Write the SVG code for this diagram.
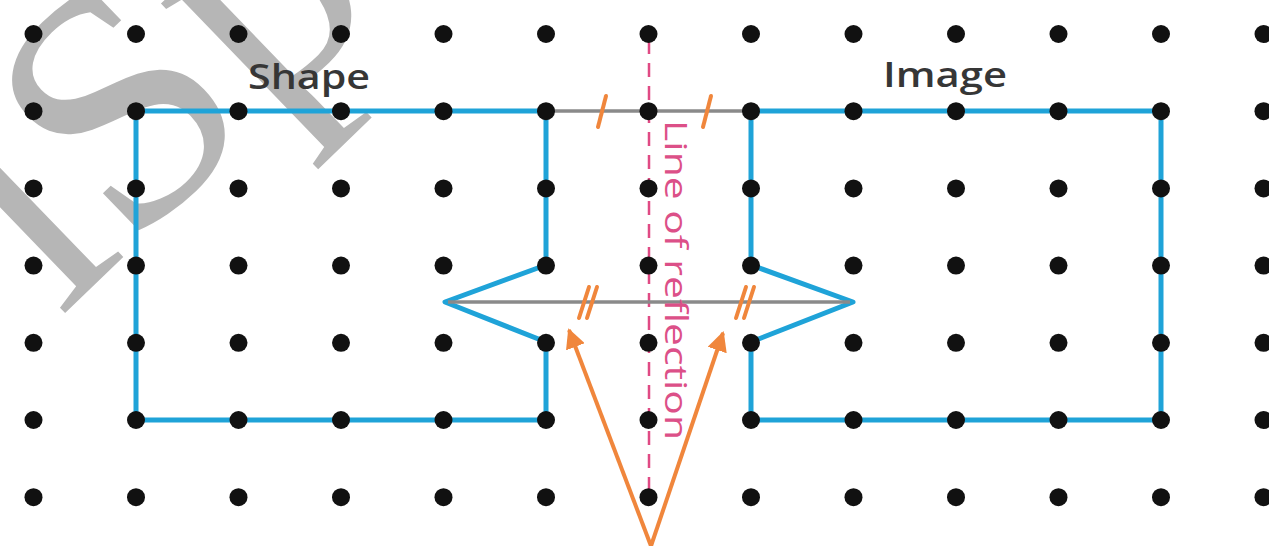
<svg xmlns="http://www.w3.org/2000/svg" width="1269" height="546" viewBox="0 0 1269 546">
<style>
.dot{fill:#111}
.shape{fill:none;stroke:#1fa3d8;stroke-width:5;stroke-linejoin:round}
.grey{stroke:#8a8a8a;stroke-width:3.5}
.tick{stroke:#f0863c;stroke-width:4;stroke-linecap:round}
.arrow{stroke:#f0863c;stroke-width:4;fill:none}
.mirror{stroke:#e04a84;stroke-width:2.5;stroke-dasharray:14 9}
.lbl{font-family:"Open Sans","Liberation Sans",sans-serif;font-size:34px;font-weight:600;fill:#363636}
.pink{font-family:"Open Sans","Liberation Sans",sans-serif;font-size:31px;fill:#dc5088}
</style>
<defs>
<marker id="ah" viewBox="0 0 10 10" refX="9" refY="5" markerWidth="5" markerHeight="5" orient="auto" markerUnits="strokeWidth">
<path d="M0,0 L10,5 L0,10 z" fill="#f0863c"/>
</marker>
<g id="row">
<circle class="dot" cx="33.5" cy="0" r="9"/><circle class="dot" cx="136" cy="0" r="9"/><circle class="dot" cx="238.5" cy="0" r="9"/><circle class="dot" cx="341" cy="0" r="9"/><circle class="dot" cx="443.5" cy="0" r="9"/><circle class="dot" cx="546" cy="0" r="9"/><circle class="dot" cx="648.5" cy="0" r="9"/><circle class="dot" cx="751" cy="0" r="9"/><circle class="dot" cx="853.5" cy="0" r="9"/><circle class="dot" cx="956" cy="0" r="9"/><circle class="dot" cx="1058.5" cy="0" r="9"/><circle class="dot" cx="1161" cy="0" r="9"/><circle class="dot" cx="1263.5" cy="0" r="9"/>
</g>
</defs>
<rect width="1269" height="546" fill="#fff"/>
<g id="watermark">
<text x="0" y="0" transform="translate(60,318) rotate(-44)" font-family="Liberation Serif,serif" font-size="340" fill="#b6b6b6">iSp</text>
</g>
<g id="mirror-line">
<line class="mirror" x1="649" y1="40" x2="649" y2="505"/>
</g>
<g id="shape">
<polygon class="shape" points="136,111 546,111 546,265 445,302 546,342 546,420 136,420"/>
</g>
<g id="image">
<polygon class="shape" points="751,111 1161,111 1161,420 751,420 751,342 853,302 751,265"/>
</g>
<g id="connectors">
<line class="grey" x1="546" y1="111" x2="751" y2="111"/>
<line class="grey" x1="448" y1="302" x2="850" y2="302"/>
<line class="tick" x1="598" y1="127" x2="606" y2="96"/>
<line class="tick" x1="703" y1="127" x2="711" y2="96"/>
<line class="tick" x1="579" y1="318" x2="589" y2="287"/>
<line class="tick" x1="587" y1="318" x2="597" y2="287"/>
<line class="tick" x1="736" y1="318" x2="746" y2="287"/>
<line class="tick" x1="744" y1="318" x2="754" y2="287"/>
<line class="arrow" x1="651" y1="546" x2="569" y2="330" marker-end="url(#ah)"/>
<line class="arrow" x1="651" y1="546" x2="723" y2="333" marker-end="url(#ah)"/>
</g>
<g id="dots">
<use href="#row" y="34"/><use href="#row" y="111.2"/><use href="#row" y="188.4"/><use href="#row" y="265.6"/><use href="#row" y="342.8"/><use href="#row" y="420"/><use href="#row" y="497.2"/>
</g>
<g id="labels">
<text class="lbl" x="248" y="89" textLength="122" lengthAdjust="spacingAndGlyphs">Shape</text>
<text class="lbl" x="883" y="87" textLength="124" lengthAdjust="spacingAndGlyphs">Image</text>
<text class="pink" x="0" y="0" transform="translate(665,120) rotate(90)" textLength="320" lengthAdjust="spacingAndGlyphs">Line of reflection</text>
</g>
</svg>
